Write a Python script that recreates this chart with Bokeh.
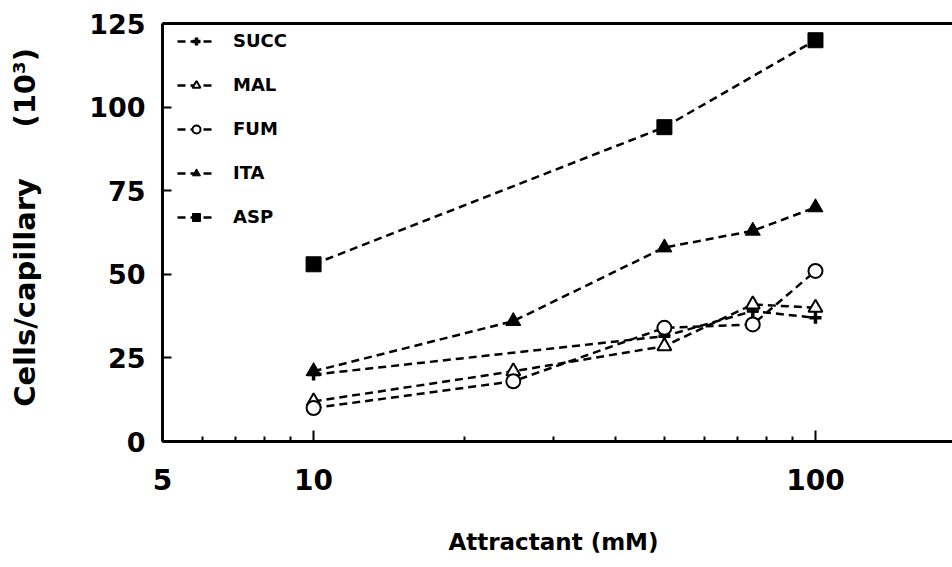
from bokeh.plotting import figure
from bokeh.models import FixedTicker, LogAxis, Legend, LegendItem
from bokeh.embed import file_html
from bokeh.resources import INLINE

# ---- data ----
conc_succ = [10, 50, 75, 100]
succ = [20, 31.5, 39, 37]
conc_mal = [10, 25, 50, 75, 100]
mal = [12, 21, 28.5, 41, 40]
conc_fum = [10, 25, 50, 75, 100]
fum = [10, 18, 34, 35, 51]
conc_ita = [10, 25, 50, 75, 100]
ita = [21, 36, 58, 63, 70]
conc_asp = [10, 50, 100]
asp = [53, 94, 120]

series_names = ["SUCC", "MAL", "FUM", "ITA", "ASP"]
x_major = [5, 10, 100]
x_minor = [6, 7, 8, 9, 20, 30, 40, 50, 60, 70, 80, 90]
y_ticks = [0, 25, 50, 75, 100, 125]

FONT = "DejaVu Sans"
INK = "black"

p = figure(width=952, height=562, x_axis_type="log",
           x_range=(5, 187.5), y_range=(0, 125),
           output_backend="svg", toolbar_location=None,
           min_border_left=162, min_border_top=23,
           min_border_bottom=121, min_border_right=0)
p.grid.visible = False
p.outline_line_color = None

# x axis
xa = p.xaxis[0]
xa.ticker = FixedTicker(ticks=x_major, minor_ticks=x_minor)
xa.major_label_overrides = {5: "5", 10: "10", 100: "100"}
xa.axis_line_width = 3
xa.major_tick_in = 11
xa.major_tick_out = 0
xa.minor_tick_in = 5
xa.minor_tick_out = 0
xa.major_tick_line_width = 2
xa.minor_tick_line_width = 2
xa.major_label_text_font = FONT
xa.major_label_text_font_style = "bold"
xa.major_label_text_font_size = "28px"
xa.major_label_text_color = INK
xa.major_label_standoff = 27
xa.axis_label = "Attractant  (mM)"
xa.axis_label_text_font = FONT
xa.axis_label_text_font_style = "bold"
xa.axis_label_text_font_size = "23px"
xa.axis_label_text_color = INK
xa.axis_label_standoff = 36

# y axis
ya = p.yaxis[0]
ya.ticker = FixedTicker(ticks=y_ticks)
ya.axis_line_width = 3
ya.major_tick_in = 9
ya.major_tick_out = 0
ya.minor_tick_line_color = None
ya.major_tick_line_width = 2
ya.major_label_text_font = FONT
ya.major_label_text_font_style = "bold"
ya.major_label_text_font_size = "27px"
ya.major_label_text_color = INK
ya.major_label_standoff = 17
ya.axis_label = "\u00a0Cells/capillary\u00a0\u00a0\u00a0\u00a0\u00a0(10\u00b3)"
ya.axis_label_text_font = FONT
ya.axis_label_text_font_style = "bold"
ya.axis_label_text_font_size = "29px"
ya.axis_label_text_color = INK
ya.axis_label_standoff = 44

# top frame line
top = LogAxis(ticker=FixedTicker(ticks=[]), axis_line_width=3,
              major_tick_line_color=None, minor_tick_line_color=None,
              major_label_text_font_size="0px", major_tick_out=0,
              major_tick_in=0, major_label_standoff=0)
p.add_layout(top, "above")

DASH = "8 5"
LW = 2.5

specs = [
    (conc_succ, succ, dict(marker="cross", size=12, line_width=3.5, fill_color="black")),
    (conc_mal, mal, dict(marker="triangle", size=14, line_width=2, fill_color="white")),
    (conc_fum, fum, dict(marker="circle", size=14, line_width=2, fill_color="white")),
    (conc_ita, ita, dict(marker="triangle", size=15, line_width=1, fill_color="black")),
    (conc_asp, asp, dict(marker="square", size=15, line_width=1, fill_color="black")),
]

items = []
for name, (xs, ys, mk) in zip(series_names, specs):
    lr = p.line(xs, ys, line_color="black", line_width=LW, line_dash=DASH)
    sr = p.scatter(xs, ys, line_color="black", **mk)
    items.append(LegendItem(label=name, renderers=[lr, sr]))

legend = Legend(items=items, location=(15, 214), orientation="vertical",
                glyph_width=38, glyph_height=20, label_height=20,
                spacing=23, label_standoff=18, padding=0, margin=0,
                border_line_color=None, background_fill_alpha=0,
                label_text_font=FONT, label_text_font_style="bold",
                label_text_color=INK, label_text_font_size="18px")
p.add_layout(legend, "center")

open("out.html", "w").write(file_html(p, INLINE))
